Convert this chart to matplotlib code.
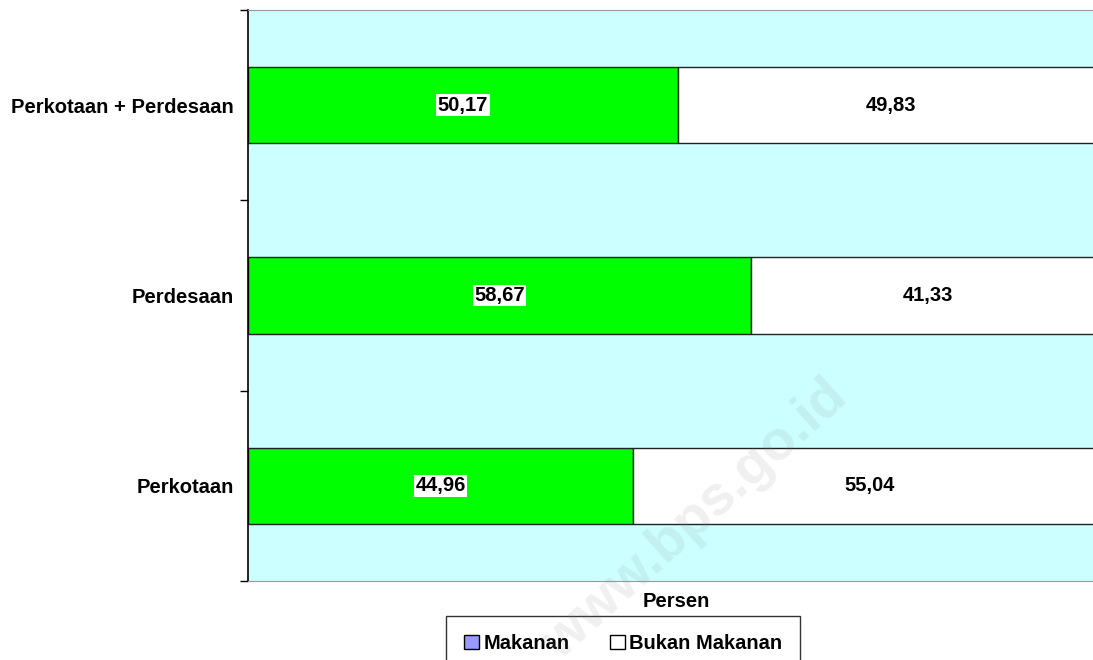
import matplotlib.pyplot as plt
from matplotlib.patches import Patch

categories = ["Perkotaan", "Perdesaan", "Perkotaan + Perdesaan"]
makanan = [44.96, 58.67, 50.17]
bukan_makanan = [55.04, 41.33, 49.83]

plt.rcParams["font.family"] = ["Liberation Sans", "DejaVu Sans"]
plt.rcParams["font.weight"] = "bold"

fig = plt.figure(figsize=(10.93, 6.6), dpi=100)
ax = fig.add_axes([248 / 1093, 79 / 660, 857 / 1093, 571 / 660])
ax.set_facecolor("#CCFFFF")

y = range(len(categories))
ax.barh(y, makanan, height=0.4, color="#00FF00", edgecolor="#222222", linewidth=1)
ax.barh(y, bukan_makanan, left=makanan, height=0.4, color="white",
        edgecolor="#222222", linewidth=1)

for i in y:
    ax.text(makanan[i] / 2, i, f"{makanan[i]:.2f}".replace(".", ","),
            ha="center", va="center", fontsize=14.5, fontweight="bold",
            bbox=dict(facecolor="white", edgecolor="none", pad=1))
    ax.text(makanan[i] + bukan_makanan[i] / 2, i,
            f"{bukan_makanan[i]:.2f}".replace(".", ","),
            ha="center", va="center", fontsize=14.5, fontweight="bold")

ax.set_xlim(0, 100)
ax.set_ylim(-0.5, 2.5)
ax.set_yticks(list(y))
ax.set_yticklabels(categories, fontsize=14.5, fontweight="bold")
ax.set_yticks([-0.5, 0.5, 1.5, 2.5], minor=True)
ax.tick_params(axis="y", which="major", length=0, pad=10)
ax.tick_params(axis="y", which="minor", length=6, width=1, color="black")
ax.set_xticks([])
ax.set_xlabel("Persen", fontsize=14.5, fontweight="bold", labelpad=8)

ax.spines["left"].set_color("black")
ax.spines["left"].set_linewidth(1.2)
for s in ["top", "bottom", "right"]:
    ax.spines[s].set_color("#999999")

handles = [Patch(facecolor="#9999FF", edgecolor="black", label="Makanan"),
           Patch(facecolor="white", edgecolor="black", label="Bukan Makanan")]
fig.legend(handles=handles, loc="upper center", bbox_to_anchor=(623 / 1093, 1 - 616 / 660),
           ncol=2, fontsize=14.5, frameon=True, fancybox=False, edgecolor="black",
           handlelength=0.75, handleheight=0.75, handletextpad=0.2, columnspacing=2.0,
           borderpad=0.9, borderaxespad=0)

fig.text(840 / 1093, 1 - 390 / 660, "www.bps.go.id", rotation=42, rotation_mode="anchor",
         ha="right", va="center", fontsize=40, fontweight="bold", color="gray",
         alpha=0.12, zorder=10)

fig.savefig("out.png", dpi=100)
